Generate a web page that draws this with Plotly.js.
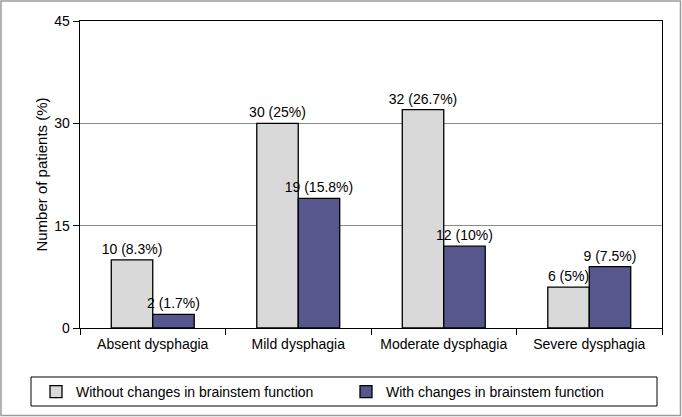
<!DOCTYPE html>
<html>
<head>
<meta charset="utf-8">
<script src="https://cdn.plot.ly/plotly-3.0.1.min.js"></script>
<style>html,body{margin:0;padding:0;background:#fff;}#chart{width:682px;height:417px;}</style>
</head>
<body>
<div id="chart"></div>
<script>
var categories = ["Absent dysphagia", "Mild dysphagia", "Moderate dysphagia", "Severe dysphagia"];
var seriesNames = ["Without changes in brainstem function", "With changes in brainstem function"];
var withoutValues = [10, 30, 32, 6];
var withoutPct = ["8.3%", "25%", "26.7%", "5%"];
var withValues = [2, 19, 12, 9];
var withPct = ["1.7%", "15.8%", "10%", "7.5%"];
var yTicks = [0, 15, 30, 45];

function labels(vals, pcts) {
  return vals.map(function (v, i) { return v + " (" + pcts[i] + ")"; });
}

var font = "Liberation Sans, Arial, Helvetica, sans-serif";
var L = 80, R = 20, T = 21, B = 89, W = 682, H = 417;
var pw = W - L - R, ph = H - T - B;
function px2x(p) { return (p - L) / pw; }
function py2y(p) { return (H - B - p) / ph; }

var traces = [
  {
    type: "bar", name: seriesNames[0], x: categories, y: withoutValues,
    text: labels(withoutValues, withoutPct), textposition: "outside",
    constraintext: "none", cliponaxis: false,
    textfont: {family: font, size: 14, color: "#000"},
    marker: {color: "#d9d9d9", line: {color: "#000", width: 1.3}},
    hoverinfo: "none"
  },
  {
    type: "bar", name: seriesNames[1], x: categories, y: withValues,
    text: labels(withValues, withPct), textposition: "outside",
    constraintext: "none", cliponaxis: false,
    textfont: {family: font, size: 14, color: "#000"},
    marker: {color: "#57578e", line: {color: "#000", width: 1.3}},
    hoverinfo: "none"
  }
];

var layout = {
  width: W, height: H,
  margin: {l: L, r: R, t: T, b: B, pad: 0, autoexpand: false},
  paper_bgcolor: "#fff", plot_bgcolor: "#fff",
  font: {family: font, size: 14, color: "#000"},
  barmode: "group", bargap: 0.43, bargroupgap: 0,
  showlegend: true,
  legend: {
    orientation: "h", x: px2x(36), xanchor: "left", y: py2y(376), yanchor: "top",
    entrywidth: 265, entrywidthmode: "pixels",
    font: {family: font, size: 14, color: "#000"},
    bgcolor: "rgba(0,0,0,0)", borderwidth: 0, itemwidth: 30, itemclick: false
  },
  xaxis: {
    type: "category", showline: true, linecolor: "#000", linewidth: 1.3, mirror: true,
    ticks: "outside", tickson: "boundaries", ticklen: 6, tickcolor: "#000", tickangle: 0,
    ticklabelstandoff: 3,
    showgrid: false, tickfont: {family: font, size: 14, color: "#000"}, automargin: false
  },
  yaxis: {
    range: [0, 45], tickvals: yTicks, ticktext: yTicks.map(String),
    showline: true, linecolor: "#000", linewidth: 1.3, mirror: true,
    ticks: "outside", ticklen: 6, tickcolor: "#000",
    showgrid: true, gridcolor: "#8a8a8a", gridwidth: 1, zeroline: false,
    tickfont: {family: font, size: 14, color: "#000"},
    title: {text: "Number of patients (%)", font: {family: font, size: 15, color: "#000"}, standoff: 3},
    automargin: false
  },
  shapes: [
    {type: "rect", xref: "paper", yref: "paper",
     x0: px2x(1), x1: px2x(680.5), y0: py2y(415.5), y1: py2y(1),
     line: {color: "#9a9a9a", width: 1.5}, fillcolor: "rgba(0,0,0,0)", layer: "below"},
    {type: "rect", xref: "paper", yref: "paper",
     x0: px2x(31), x1: px2x(657), y0: py2y(406), y1: py2y(377),
     line: {color: "#000", width: 1}, fillcolor: "rgba(0,0,0,0)"}
  ]
};

Plotly.newPlot("chart", traces, layout, {displayModeBar: false, staticPlot: true});
</script>
</body>
</html>
